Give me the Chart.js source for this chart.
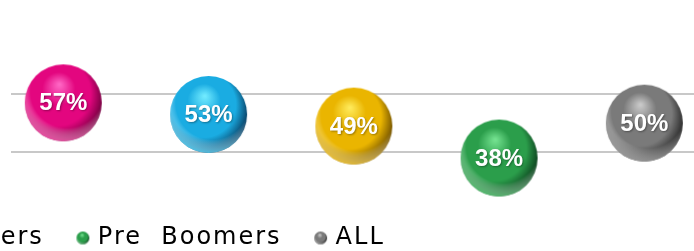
<!DOCTYPE html>
<html>
<head>
<meta charset="utf-8">
<script src="https://cdn.jsdelivr.net/npm/chart.js@4.4.1/dist/chart.umd.min.js"></script>
<style>
  html, body { margin: 0; padding: 0; overflow: hidden; background: #fff; }
  #wrap { position: absolute; left: -402px; top: 0; }
</style>
</head>
<body>
<div id="wrap"><canvas id="chart" width="1119" height="260"></canvas></div>
<script>
const groups = ["Gen Y", "Gen X", "Boomers", "Pre  Boomers", "ALL"];
const shares = [57, 53, 49, 38, 50];
const gridValues = [40, 60];

// sphere shading: highlight, body, shadow, bottom rim
const palette = [
  ["#ff66c4", "#e3067f", "#6e003c", "#ff5cb4"],
  ["#70eaff", "#1aace2", "#083a5e", "#5fdcff"],
  ["#ffea5a", "#eab500", "#6e4e00", "#ffd23c"],
  ["#74e290", "#2b9e4b", "#0b3d1c", "#5fd47c"],
  ["#c9c9c9", "#7a7a7a", "#252525", "#adadad"],
];

function sphere(r, colors) {
  const [light, base, dark, rim] = colors;
  const c = document.createElement("canvas");
  c.width = c.height = Math.ceil(r * 2) + 2;
  const g = c.getContext("2d");
  const cx = c.width / 2, cy = c.height / 2;

  g.beginPath();
  g.arc(cx, cy, r, 0, Math.PI * 2);
  g.clip();

  const body = g.createRadialGradient(cx - r * 0.1, cy - r * 0.48, r * 0.02, cx - r * 0.15, cy - r * 0.15, r * 1.2);
  body.addColorStop(0, light);
  body.addColorStop(0.35, base);
  body.addColorStop(0.7, base);
  body.addColorStop(1, dark);
  g.fillStyle = body;
  g.fillRect(0, 0, c.width, c.height);

  const glow = g.createRadialGradient(cx + r * 0.1, cy - r * 0.3, r * 0.95, cx + r * 0.1, cy - r * 0.3, r * 1.32);
  glow.addColorStop(0, "rgba(255,255,255,0)");
  glow.addColorStop(1, rim);
  g.globalAlpha = 0.8;
  g.fillStyle = glow;
  g.fillRect(0, 0, c.width, c.height);
  g.globalAlpha = 1;
  return c;
}

const bigBalls = palette.map((p) => sphere(38.5, p));
const smallBalls = palette.map((p) => sphere(6.5, p));

// legend text in the original is drawn wide
const legendSpacing = {
  id: "legendSpacing",
  beforeLayout(chart) { chart.ctx.letterSpacing = "2px"; },
  afterLayout(chart) { chart.ctx.letterSpacing = "0px"; },
  beforeDraw(chart) { chart.ctx.letterSpacing = "2px"; },
  beforeDatasetsDraw(chart) { chart.ctx.letterSpacing = "0px"; },
};

const ballLabels = {
  id: "ballLabels",
  afterDatasetsDraw(chart) {
    const ctx = chart.ctx;
    const meta = chart.getDatasetMeta(0);
    ctx.save();
    ctx.font = "bold 24px 'Liberation Sans', Arial, sans-serif";
    ctx.fillStyle = "#ffffff";
    ctx.textAlign = "center";
    ctx.textBaseline = "middle";
    ctx.shadowColor = "rgba(0,0,0,0.35)";
    ctx.shadowBlur = 2;
    ctx.shadowOffsetX = 1;
    ctx.shadowOffsetY = 1;
    meta.data.forEach((pt, i) => {
      ctx.fillText(shares[i] + "%", pt.x, pt.y + 1);
    });
    ctx.restore();
  },
};

new Chart(document.getElementById("chart"), {
  type: "scatter",
  data: {
    labels: groups,
    datasets: [
      {
        data: shares.map((v, i) => ({ x: i, y: v })),
        pointStyle: bigBalls,
        radius: 38,
        clip: false,
      },
    ],
  },
  options: {
    responsive: false,
    animation: false,
    events: [],
    layout: { autoPadding: false, padding: { top: 36, left: 0, right: 0, bottom: 0 } },
    scales: {
      x: { type: "linear", min: -0.36, max: 4.5, display: false },
      y: {
        min: 27,
        max: 80,
        ticks: { display: false, stepSize: 20 },
        border: { display: false },
        grid: {
          drawTicks: false,
          lineWidth: 2,
          color: (c) => (gridValues.includes(c.tick.value) ? "#c8c8c8" : "rgba(0,0,0,0)"),
        },
        afterFit: (scale) => { scale.width = 413; },
      },
    },
    plugins: {
      tooltip: { enabled: false },
      legend: {
        position: "bottom",
        align: "start",
        labels: {
          usePointStyle: true,
          pointStyleWidth: 6,
          padding: 36,
          color: "#505050",
          font: { family: "'DejaVu Sans', sans-serif", size: 24 },
          generateLabels: () =>
            groups.map((g, i) => ({
              text: g,
              pointStyle: smallBalls[i],
              fillStyle: palette[i][1],
              strokeStyle: palette[i][1],
              lineWidth: 0,
              hidden: false,
              datasetIndex: 0,
              index: i,
            })),
        },
      },
    },
  },
  plugins: [legendSpacing, ballLabels],
});
</script>
</body>
</html>
